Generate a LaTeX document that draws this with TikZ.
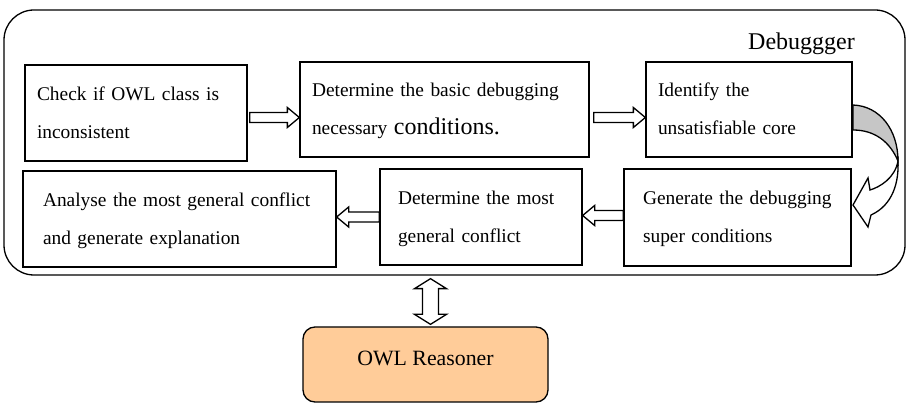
\documentclass[tikz,border=0pt]{standalone}
\usepackage{fontspec}
\setmainfont{Liberation Serif}
\usetikzlibrary{calc}
\definecolor{owlfill}{HTML}{FFCC99}
\newcommand\ts{\rule{0pt}{18pt}}
\newcommand\bs{\rule[-5pt]{0pt}{5pt}}
\newcommand\bodyfont{\fontsize{19.4}{38}\selectfont}
\newcommand\harrow[2]{\draw[blk] let \p1=#1, \p2=#2, \n1={ifthenelse(\x2>\x1,1,-1)} in
  (\x1,\y1+5pt) -- (\x2-\n1*12pt,\y1+5pt) -- (\x2-\n1*12pt,\y1+10pt) -- (\x2,\y1)
  -- (\x2-\n1*12pt,\y1-10pt) -- (\x2-\n1*12pt,\y1-5pt) -- (\x1,\y1-5pt) -- cycle;}
\begin{document}
\begin{tikzpicture}[x=1pt,y=-1pt,
  box/.style={draw, line width=1.3pt, rectangle, align=left, inner ysep=0pt, font=\bodyfont},
  blk/.style={draw, line width=1.3pt, fill=white, line join=miter},
]
\useasboundingbox (0,0) rectangle (911,403);
\node[draw, line width=1.3pt, rounded corners=30pt, minimum width=901pt, minimum height=265pt, inner sep=0pt] (dbg) at (454.5,142.5) {};
\node[anchor=base east, font=\fontsize{24}{28}\selectfont, inner sep=0pt] (dlabel) at (855,50) {Debuggger};

\node[box, minimum width=222pt, minimum height=96pt, text width=198pt, inner xsep=12pt] (b1) at (136,113) {\ts Check if OWL class is\\inconsistent\bs};
\node[box, minimum width=289pt, minimum height=95pt, text width=265pt, inner xsep=12pt] (b2) at (444.5,109.5) {\ts Determine the basic debugging\\necessary {\fontsize{24}{38}\selectfont conditions.}\bs};
\node[box, minimum width=206pt, minimum height=95pt, text width=182pt, inner xsep=12pt] (b3) at (749,109.5) {\ts Identify the\\unsatisfiable core\bs};
\node[box, minimum width=313pt, minimum height=96pt, text width=273pt, inner xsep=20pt] (b4) at (179.5,219) {\ts Analyse the most general conflict\\and generate explanation\bs};
\node[box, minimum width=202pt, minimum height=96pt, text width=166pt, inner xsep=18pt] (b5) at (481,217) {\ts Determine the most\\general conflict\bs};
\node[box, minimum width=227pt, minimum height=97pt, text width=189pt, inner xsep=19pt] (b6) at (737.5,217.5) {\ts Generate the debugging\\super conditions\bs};

\node[draw, line width=1.3pt, fill=owlfill, rounded corners=12pt, minimum width=245pt, minimum height=75pt,
  font=\fontsize{21.8}{26}\selectfont, text height=14.4pt, text depth=13pt] (owl) at (425.5,364.5) {OWL Reasoner};

% straight block arrows
\coordinate (a12s) at ($(b1.east)+(2,4.5)$);
\coordinate (a12e) at (b2.west |- a12s);
\harrow{(a12s)}{(a12e)}
\coordinate (a23s) at ($(b2.east)+(4,8)$);
\coordinate (a23e) at (b3.west |- a23s);
\harrow{(a23s)}{(a23e)}
\coordinate (a65s) at ($(b6.west)+(0,-2)$);
\coordinate (a65e) at (b5.east |- a65s);
\harrow{(a65s)}{(a65e)}
\coordinate (a54s) at (b5.west);
\coordinate (a54e) at (b4.east |- a54s);
\harrow{(a54s)}{(a54e)}

% vertical double arrow
\coordinate (vt) at ($(owl.north |- dbg.south)+(5,3)$);
\coordinate (vb) at ($(owl.north)+(5,-2)$);
\draw[blk] let \p1=(vt), \p2=(vb) in
  (\x1,\y1) -- (\x1+16pt,\y1-10pt) -- (\x1+8pt,\y1-10pt) -- (\x1+8pt,\y2+10pt) -- (\x1+16pt,\y2+10pt)
  -- (\x2,\y2) -- (\x1-16pt,\y2+10pt) -- (\x1-8pt,\y2+10pt) -- (\x1-8pt,\y1-10pt) -- (\x1-16pt,\y1-10pt) -- cycle;

% curved arrow from b3 to b6
\draw[blk] (898,161) .. controls (899,182) and (893,205) .. (871,215) -- (868,227) -- (853,205)
  -- (868,178) -- (870,190) .. controls (880,187) and (895,178) .. (898,161) -- cycle;
\draw[blk, fill=gray!45] (853,105) .. controls (880,106) and (898,130) .. (898,161)
  .. controls (890,142) and (875,130) .. (853,130) -- cycle;
\end{tikzpicture}
\end{document}
